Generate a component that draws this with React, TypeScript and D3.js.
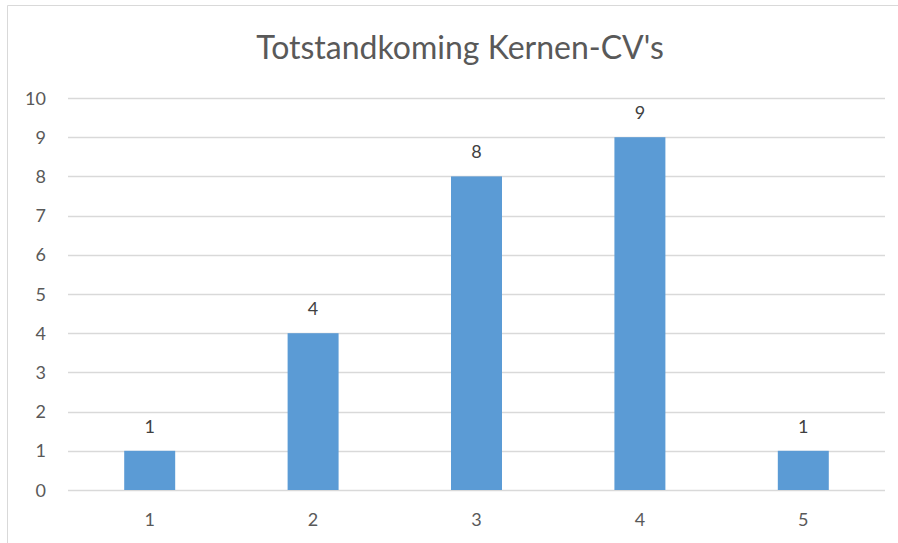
import React from "react";
import * as d3 from "d3";

const categories = ["1", "2", "3", "4", "5"];
const values = [1, 4, 8, 9, 1];
const yTicks = [0, 1, 2, 3, 4, 5, 6, 7, 8, 9, 10];
const title = "Totstandkoming Kernen-CV's";

const W = 898;
const H = 543;
const plot = { left: 68, right: 885, top: 98, bottom: 490 };
const font = "Lato, Carlito, 'Liberation Sans', Arial, sans-serif";

export default function App() {
  const x = d3
    .scaleBand<string>()
    .domain(categories)
    .range([plot.left, plot.right])
    .paddingInner(0.688)
    .paddingOuter(0.344);
  const y = d3.scaleLinear().domain([0, 10]).range([plot.bottom, plot.top]);

  return (
    <svg
      width={W}
      height={H}
      style={{ position: "absolute", left: 0, top: 0, background: "#fff" }}
    >
      <rect x={0} y={0} width={W} height={H} fill="#fff" />
      <line x1={7.5} y1={5.5} x2={W} y2={5.5} stroke="#D9D9D9" strokeWidth={1} />
      <line x1={7.5} y1={5.5} x2={7.5} y2={H} stroke="#D9D9D9" strokeWidth={1} />
      <text
        x={460}
        y={59}
        textAnchor="middle"
        fontFamily={font}
        fontSize={32}
        fill="#595959"
      >
        {title}
      </text>
      {yTicks.map((t) => (
        <g key={t}>
          <line
            x1={plot.left}
            x2={plot.right}
            y1={Math.round(y(t)) + 0.5}
            y2={Math.round(y(t)) + 0.5}
            stroke="#D9D9D9"
            strokeWidth={1.5}
          />
          <text
            x={46}
            y={y(t) + 6.5}
            textAnchor="end"
            fontFamily={font}
            fontSize={18}
            fill="#595959"
          >
            {t}
          </text>
        </g>
      ))}
      {categories.map((c, i) => (
        <g key={c}>
          <rect
            x={x(c)!}
            y={y(values[i])}
            width={x.bandwidth()}
            height={y(0) - y(values[i])}
            fill="#5B9BD5"
          />
          <text
            x={x(c)! + x.bandwidth() / 2}
            y={y(values[i]) - 18}
            textAnchor="middle"
            fontFamily={font}
            fontSize={18}
            fill="#404040"
          >
            {values[i]}
          </text>
          <text
            x={x(c)! + x.bandwidth() / 2}
            y={526}
            textAnchor="middle"
            fontFamily={font}
            fontSize={18}
            fill="#595959"
          >
            {c}
          </text>
        </g>
      ))}
    </svg>
  );
}
